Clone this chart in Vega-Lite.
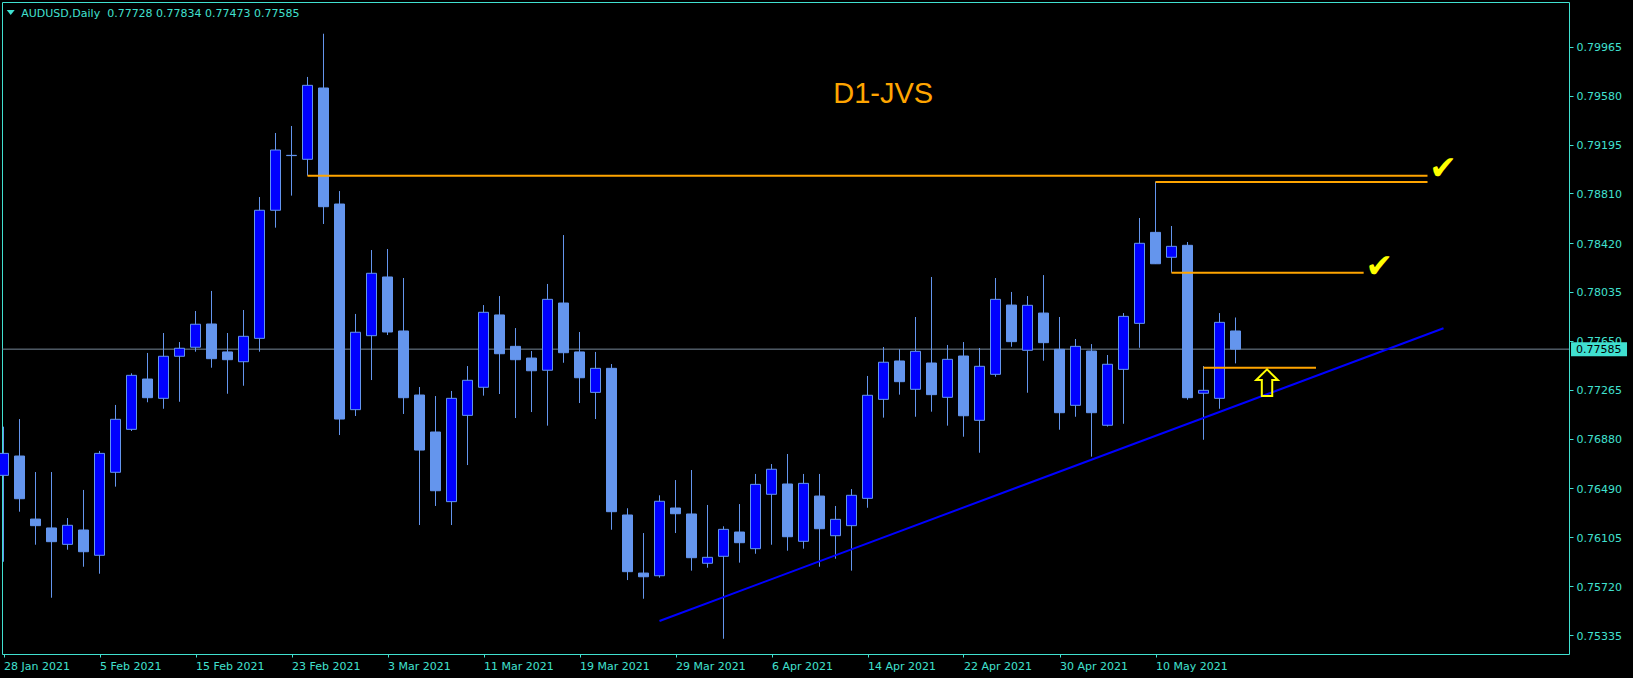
{
  "$schema": "https://vega.github.io/schema/vega-lite/v6.json",
  "width": 1567,
  "height": 652,
  "autosize": {"type": "none"},
  "padding": {"left": 2, "top": 2, "right": 64, "bottom": 24},
  "background": "#000000",
  "config": {
    "view": {"stroke": "#40E0D0", "strokeWidth": 1, "fill": "#000000"},
    "scale": {"continuousPadding": 0},
    "axis": {"domain": false, "grid": false, "tickColor": "#40E0D0", "labelColor": "#40E0D0", "labelFont": "DejaVu Sans", "labelFontSize": 11}
  },
  "datasets": {
    "candles": [
      {"d":"2021-01-28","i":0,"o":0.76592,"h":0.76975,"l":0.75912,"c":0.76765},
      {"d":"2021-01-29","i":1,"o":0.76744,"h":0.77035,"l":0.76306,"c":0.76408},
      {"d":"2021-02-01","i":2,"o":0.76248,"h":0.76618,"l":0.76046,"c":0.76196},
      {"d":"2021-02-02","i":3,"o":0.76178,"h":0.76618,"l":0.75629,"c":0.76070},
      {"d":"2021-02-03","i":4,"o":0.76049,"h":0.76256,"l":0.76007,"c":0.76199},
      {"d":"2021-02-04","i":5,"o":0.76162,"h":0.76477,"l":0.75873,"c":0.75991},
      {"d":"2021-02-05","i":6,"o":0.75963,"h":0.76784,"l":0.75818,"c":0.76765},
      {"d":"2021-02-08","i":7,"o":0.76616,"h":0.77146,"l":0.76503,"c":0.77033},
      {"d":"2021-02-09","i":8,"o":0.76954,"h":0.77395,"l":0.76941,"c":0.77379},
      {"d":"2021-02-10","i":9,"o":0.77350,"h":0.77555,"l":0.77167,"c":0.77203},
      {"d":"2021-02-11","i":10,"o":0.77198,"h":0.77712,"l":0.77116,"c":0.77529},
      {"d":"2021-02-12","i":11,"o":0.77529,"h":0.77641,"l":0.77171,"c":0.77592},
      {"d":"2021-02-15","i":12,"o":0.77600,"h":0.77885,"l":0.77565,"c":0.77781},
      {"d":"2021-02-16","i":13,"o":0.77783,"h":0.78043,"l":0.77439,"c":0.77510},
      {"d":"2021-02-17","i":14,"o":0.77563,"h":0.77712,"l":0.77234,"c":0.77502},
      {"d":"2021-02-18","i":15,"o":0.77486,"h":0.77893,"l":0.77297,"c":0.77686},
      {"d":"2021-02-19","i":16,"o":0.77670,"h":0.78782,"l":0.77565,"c":0.78678},
      {"d":"2021-02-22","i":17,"o":0.78678,"h":0.79286,"l":0.78541,"c":0.79152},
      {"d":"2021-02-23","i":18,"o":0.79110,"h":0.79341,"l":0.78793,"c":0.79108},
      {"d":"2021-02-24","i":19,"o":0.79079,"h":0.79727,"l":0.78950,"c":0.79661},
      {"d":"2021-02-25","i":20,"o":0.79640,"h":0.80067,"l":0.78570,"c":0.78706},
      {"d":"2021-02-26","i":21,"o":0.78727,"h":0.78829,"l":0.76909,"c":0.77035},
      {"d":"2021-03-01","i":22,"o":0.77109,"h":0.77862,"l":0.77059,"c":0.77718},
      {"d":"2021-03-02","i":23,"o":0.77691,"h":0.78365,"l":0.77342,"c":0.78182},
      {"d":"2021-03-03","i":24,"o":0.78153,"h":0.78373,"l":0.77696,"c":0.77720},
      {"d":"2021-03-04","i":25,"o":0.77728,"h":0.78145,"l":0.77075,"c":0.77203},
      {"d":"2021-03-05","i":26,"o":0.77224,"h":0.77287,"l":0.76201,"c":0.76791},
      {"d":"2021-03-08","i":27,"o":0.76933,"h":0.77216,"l":0.76351,"c":0.76471},
      {"d":"2021-03-09","i":28,"o":0.76385,"h":0.77256,"l":0.76201,"c":0.77198},
      {"d":"2021-03-10","i":29,"o":0.77064,"h":0.77452,"l":0.76673,"c":0.77340},
      {"d":"2021-03-11","i":30,"o":0.77285,"h":0.77932,"l":0.77219,"c":0.77875},
      {"d":"2021-03-12","i":31,"o":0.77854,"h":0.78003,"l":0.77232,"c":0.77549},
      {"d":"2021-03-15","i":32,"o":0.77607,"h":0.77751,"l":0.77043,"c":0.77502},
      {"d":"2021-03-16","i":33,"o":0.77515,"h":0.77570,"l":0.77090,"c":0.77415},
      {"d":"2021-03-17","i":34,"o":0.77419,"h":0.78098,"l":0.76983,"c":0.77977},
      {"d":"2021-03-18","i":35,"o":0.77948,"h":0.78483,"l":0.77478,"c":0.77557},
      {"d":"2021-03-19","i":36,"o":0.77563,"h":0.77720,"l":0.77161,"c":0.77360},
      {"d":"2021-03-22","i":37,"o":0.77245,"h":0.77563,"l":0.77035,"c":0.77434},
      {"d":"2021-03-23","i":38,"o":0.77434,"h":0.77468,"l":0.76164,"c":0.76306},
      {"d":"2021-03-24","i":39,"o":0.76280,"h":0.76333,"l":0.75768,"c":0.75834},
      {"d":"2021-03-25","i":40,"o":0.75823,"h":0.76138,"l":0.75621,"c":0.75794},
      {"d":"2021-03-26","i":41,"o":0.75802,"h":0.76435,"l":0.75787,"c":0.76388},
      {"d":"2021-03-29","i":42,"o":0.76335,"h":0.76555,"l":0.76138,"c":0.76290},
      {"d":"2021-03-30","i":43,"o":0.76288,"h":0.76634,"l":0.75842,"c":0.75944},
      {"d":"2021-03-31","i":44,"o":0.75900,"h":0.76359,"l":0.75865,"c":0.75947},
      {"d":"2021-04-01","i":45,"o":0.75955,"h":0.76191,"l":0.75306,"c":0.76167},
      {"d":"2021-04-02","i":46,"o":0.76146,"h":0.76366,"l":0.75905,"c":0.76062},
      {"d":"2021-04-05","i":47,"o":0.76015,"h":0.76603,"l":0.75975,"c":0.76521},
      {"d":"2021-04-06","i":48,"o":0.76443,"h":0.76681,"l":0.76046,"c":0.76640},
      {"d":"2021-04-07","i":49,"o":0.76524,"h":0.76760,"l":0.75999,"c":0.76109},
      {"d":"2021-04-08","i":50,"o":0.76073,"h":0.76603,"l":0.76015,"c":0.76529},
      {"d":"2021-04-09","i":51,"o":0.76429,"h":0.76603,"l":0.75873,"c":0.76172},
      {"d":"2021-04-12","i":52,"o":0.76117,"h":0.76351,"l":0.75936,"c":0.76246},
      {"d":"2021-04-13","i":53,"o":0.76196,"h":0.76484,"l":0.75842,"c":0.76435},
      {"d":"2021-04-14","i":54,"o":0.76411,"h":0.77374,"l":0.76337,"c":0.77222},
      {"d":"2021-04-15","i":55,"o":0.77190,"h":0.77602,"l":0.77046,"c":0.77482},
      {"d":"2021-04-16","i":56,"o":0.77492,"h":0.77584,"l":0.77227,"c":0.77329},
      {"d":"2021-04-19","i":57,"o":0.77269,"h":0.77838,"l":0.77053,"c":0.77568},
      {"d":"2021-04-20","i":58,"o":0.77476,"h":0.78153,"l":0.77093,"c":0.77227},
      {"d":"2021-04-21","i":59,"o":0.77206,"h":0.77618,"l":0.76983,"c":0.77505},
      {"d":"2021-04-22","i":60,"o":0.77531,"h":0.77641,"l":0.76896,"c":0.77061},
      {"d":"2021-04-23","i":61,"o":0.77025,"h":0.77594,"l":0.76770,"c":0.77450},
      {"d":"2021-04-26","i":62,"o":0.77387,"h":0.78145,"l":0.77368,"c":0.77977},
      {"d":"2021-04-27","i":63,"o":0.77932,"h":0.78035,"l":0.77604,"c":0.77644},
      {"d":"2021-04-28","i":64,"o":0.77576,"h":0.78003,"l":0.77242,"c":0.77930},
      {"d":"2021-04-29","i":65,"o":0.77869,"h":0.78168,"l":0.77494,"c":0.77636},
      {"d":"2021-04-30","i":66,"o":0.77584,"h":0.77838,"l":0.76951,"c":0.77085},
      {"d":"2021-05-03","i":67,"o":0.77143,"h":0.77665,"l":0.77053,"c":0.77607},
      {"d":"2021-05-04","i":68,"o":0.77570,"h":0.77625,"l":0.76739,"c":0.77085},
      {"d":"2021-05-05","i":69,"o":0.76986,"h":0.77539,"l":0.76976,"c":0.77466},
      {"d":"2021-05-06","i":70,"o":0.77426,"h":0.77869,"l":0.76998,"c":0.77843},
      {"d":"2021-05-07","i":71,"o":0.77788,"h":0.78617,"l":0.77596,"c":0.78418},
      {"d":"2021-05-10","i":72,"o":0.78504,"h":0.78903,"l":0.78255,"c":0.78257},
      {"d":"2021-05-11","i":73,"o":0.78308,"h":0.78554,"l":0.78187,"c":0.78394},
      {"d":"2021-05-12","i":74,"o":0.78402,"h":0.78428,"l":0.77187,"c":0.77203},
      {"d":"2021-05-13","i":75,"o":0.77238,"h":0.77452,"l":0.76872,"c":0.77261},
      {"d":"2021-05-14","i":76,"o":0.77198,"h":0.77869,"l":0.77116,"c":0.77796},
      {"d":"2021-05-17","i":77,"o":0.77728,"h":0.77834,"l":0.77473,"c":0.77585}
    ],
    "last": [{"price": 0.77585, "label": "0.77585", "boxI": 99.72, "textI": 98.28}],
    "levels": [
      {"from": 19, "to": 89, "level": 0.78950},
      {"from": 72, "to": 89, "level": 0.78900},
      {"from": 73, "to": 85.01, "level": 0.78187},
      {"from": 75, "to": 82.03, "level": 0.77439}
    ],
    "trend": [{"from": 41, "to": 90, "p1": 0.75446, "p2": 0.77749}],
    "checks": [
      {"i": 89.97, "price": 0.79000, "text": "✔"},
      {"i": 85.99, "price": 0.78235, "text": "✔"}
    ],
    "arrow": [{"i": 78.97, "price": 0.77321}],
    "header": [{"i": 1.11, "price": 0.80201, "text": "AUDUSD,Daily\u00a0 0.77728 0.77834 0.77473 0.77585", "triI": 0.45, "triP": 0.80234}],
    "title": [{"i": 51.86, "price": 0.79520, "text": "D1-JVS"}]
  },
  "layer": [
    {
      "data": {"name": "last"},
      "mark": {"type": "rule", "color": "#778899", "strokeWidth": 1},
      "encoding": {
        "y": {
          "field": "price", "type": "quantitative",
          "scale": {"domain": [0.751862, 0.803167], "nice": false, "zero": false, "padding": 0},
          "axis": {
            "orient": "right", "title": null,
            "values": [0.79965, 0.7958, 0.79195, 0.7881, 0.7842, 0.78035, 0.7765, 0.77265, 0.7688, 0.7649, 0.76105, 0.7572, 0.75335],
            "format": ".5f", "tickSize": 4, "labelPadding": 3, "labelOffset": 1,
            "labelFlush": false, "labelOverlap": false, "labelBound": false
          }
        }
      }
    },
    {
      "data": {"name": "candles"},
      "mark": {"type": "rule", "color": "#6495ED", "strokeWidth": 1},
      "encoding": {
        "x": {
          "field": "i", "type": "quantitative",
          "scale": {"domain": [-0.09375, 97.84375], "nice": false, "zero": false, "padding": 0},
          "axis": {
            "orient": "bottom", "title": null,
            "values": [0, 6, 12, 18, 24, 30, 36, 42, 48, 54, 60, 66, 72],
            "labelExpr": "['28 Jan 2021','5 Feb 2021','15 Feb 2021','23 Feb 2021','3 Mar 2021','11 Mar 2021','19 Mar 2021','29 Mar 2021','6 Apr 2021','14 Apr 2021','22 Apr 2021','30 Apr 2021','10 May 2021'][round(datum.value/6)]",
            "labelAlign": "left", "labelBaseline": "top", "tickSize": 3, "labelPadding": 3,
            "labelFlush": false, "labelOverlap": false, "labelBound": false
          }
        },
        "y": {"field": "l", "type": "quantitative", "axis": {"title": null}},
        "y2": {"field": "h"}
      }
    },
    {
      "data": {"name": "candles"},
      "mark": {"type": "bar", "orient": "vertical", "size": 10, "stroke": "#6495ED", "strokeWidth": 1},
      "encoding": {
        "x": {"field": "i", "type": "quantitative", "axis": {"title": null}},
        "y": {"field": "o", "type": "quantitative", "axis": {"title": null}},
        "y2": {"field": "c"},
        "fill": {"condition": {"test": "datum.c > datum.o", "value": "#0000FF"}, "value": "#6495ED"}
      }
    },
    {
      "data": {"name": "trend"},
      "mark": {"type": "rule", "color": "#0000FF", "strokeWidth": 2},
      "encoding": {
        "x": {"field": "from", "type": "quantitative", "axis": {"title": null}},
        "x2": {"field": "to"},
        "y": {"field": "p1", "type": "quantitative", "axis": {"title": null}},
        "y2": {"field": "p2"}
      }
    },
    {
      "data": {"name": "levels"},
      "mark": {"type": "rule", "color": "#FFA500", "strokeWidth": 2},
      "encoding": {
        "x": {"field": "from", "type": "quantitative", "axis": {"title": null}},
        "x2": {"field": "to"},
        "y": {"field": "level", "type": "quantitative", "axis": {"title": null}}
      }
    },
    {
      "data": {"name": "checks"},
      "mark": {"type": "text", "font": "DejaVu Sans", "fontSize": 33, "color": "#FFFF00", "align": "center", "baseline": "middle"},
      "encoding": {
        "x": {"field": "i", "type": "quantitative", "axis": {"title": null}},
        "y": {"field": "price", "type": "quantitative", "axis": {"title": null}},
        "text": {"field": "text"}
      }
    },
    {
      "data": {"name": "arrow"},
      "mark": {"type": "point", "shape": "M0,-1L0.81,-0.2L0.39,-0.2L0.39,1L-0.39,1L-0.39,-0.2L-0.81,-0.2Z", "size": 713, "filled": false, "stroke": "#FFFF00", "strokeWidth": 2, "opacity": 1},
      "encoding": {
        "x": {"field": "i", "type": "quantitative", "axis": {"title": null}},
        "y": {"field": "price", "type": "quantitative", "axis": {"title": null}}
      }
    },
    {
      "data": {"name": "header"},
      "mark": {"type": "point", "shape": "M-1,-0.6L1,-0.6L0,0.6Z", "size": 64, "filled": true, "color": "#40E0D0", "opacity": 1},
      "encoding": {
        "x": {"field": "triI", "type": "quantitative", "axis": {"title": null}},
        "y": {"field": "triP", "type": "quantitative", "axis": {"title": null}}
      }
    },
    {
      "data": {"name": "header"},
      "mark": {"type": "text", "font": "DejaVu Sans", "fontSize": 11, "color": "#40E0D0", "align": "left", "baseline": "alphabetic"},
      "encoding": {
        "x": {"field": "i", "type": "quantitative", "axis": {"title": null}},
        "y": {"field": "price", "type": "quantitative", "axis": {"title": null}},
        "text": {"field": "text"}
      }
    },
    {
      "data": {"name": "title"},
      "mark": {"type": "text", "font": "Liberation Sans", "fontSize": 29, "color": "#FFA500", "align": "left", "baseline": "alphabetic"},
      "encoding": {
        "x": {"field": "i", "type": "quantitative", "axis": {"title": null}},
        "y": {"field": "price", "type": "quantitative", "axis": {"title": null}},
        "text": {"field": "text"}
      }
    },
    {
      "data": {"name": "last"},
      "mark": {"type": "point", "shape": "M-1,-0.25L1,-0.25L1,0.25L-1,0.25Z", "size": 3136, "filled": true, "color": "#40E0D0", "opacity": 1, "clip": false},
      "encoding": {
        "x": {"field": "boxI", "type": "quantitative", "axis": {"title": null}},
        "y": {"field": "price", "type": "quantitative", "axis": {"title": null}}
      }
    },
    {
      "data": {"name": "last"},
      "mark": {"type": "text", "font": "DejaVu Sans", "fontSize": 11, "color": "#000000", "align": "left", "baseline": "middle", "dy": 1, "clip": false},
      "encoding": {
        "x": {"field": "textI", "type": "quantitative", "axis": {"title": null}},
        "y": {"field": "price", "type": "quantitative", "axis": {"title": null}},
        "text": {"field": "label"}
      }
    }
  ]
}
